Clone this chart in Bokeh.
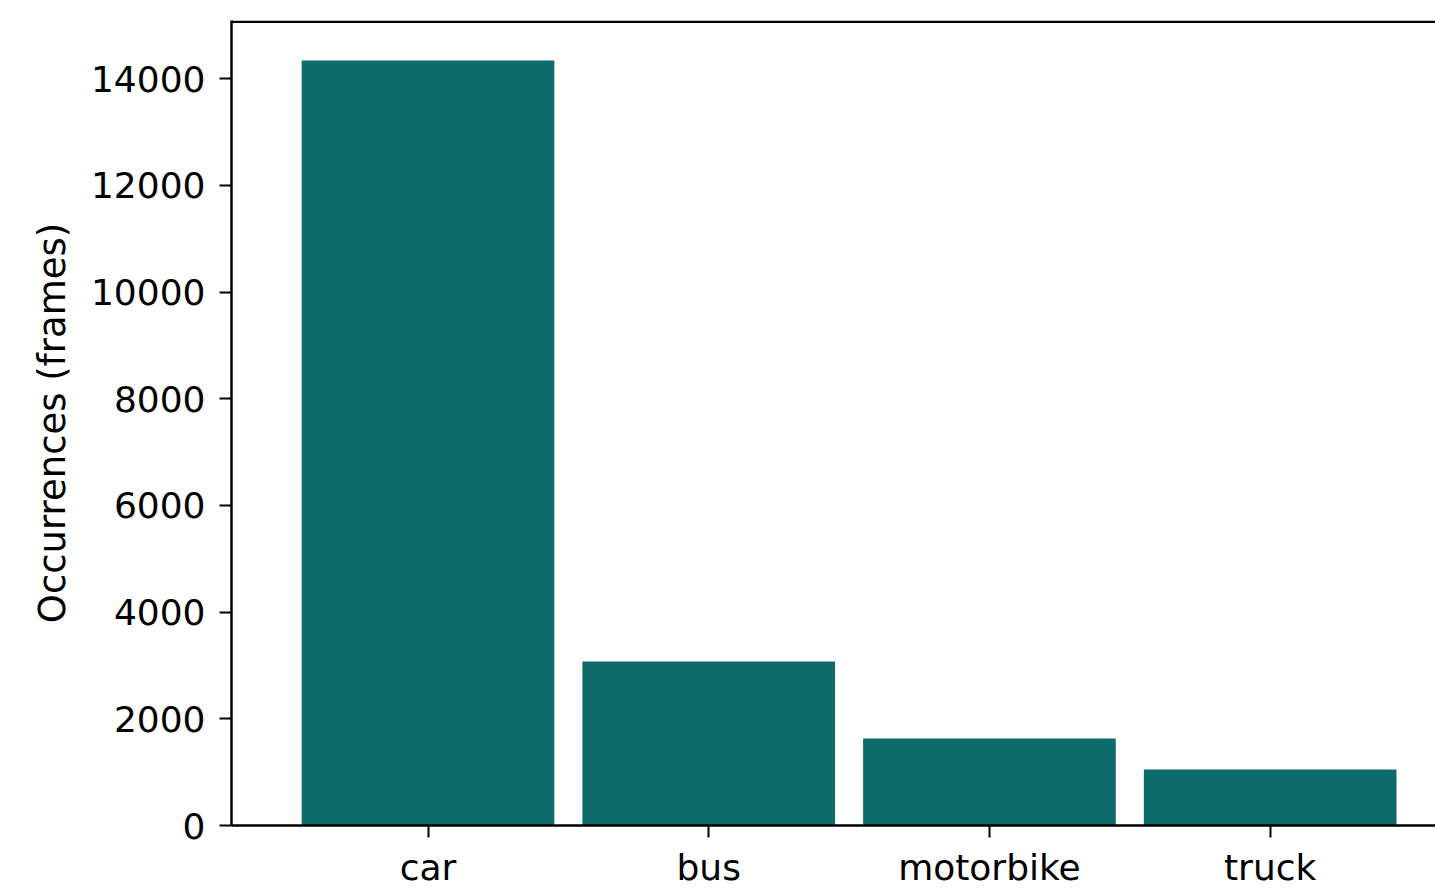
from bokeh.plotting import figure
from bokeh.models import Range1d, FixedTicker, Span, ColumnDataSource
from bokeh.embed import file_html
from bokeh.resources import INLINE

# Occurrences of each vehicle class, counted in frames
categories = ["car", "bus", "motorbike", "truck"]
occurrences = [14340, 3075, 1630, 1050]
y_ticks = [0, 2000, 4000, 6000, 8000, 10000, 12000, 14000]

BAR_COLOR = "#0d6b6b"
FONT = "DejaVu Sans"
Y_TOP = 15090

positions = list(range(len(categories)))
source = ColumnDataSource(dict(x=positions, top=occurrences, name=categories))

p = figure(
    width=1435, height=891,
    x_range=Range1d(-0.70, 3.589),
    y_range=Range1d(0, Y_TOP),
    output_backend="svg", toolbar_location=None,
    min_border_left=231, min_border_top=20, min_border_bottom=66, min_border_right=0,
)
p.outline_line_color = None
p.grid.visible = False
p.background_fill_color = "white"
p.border_fill_color = "white"

p.vbar(x="x", top="top", width=0.9, bottom=0, source=source,
       fill_color=BAR_COLOR, line_color=None)

# top frame edge, nudged just inside the frame so it is not clipped
p.add_layout(Span(location=Y_TOP - 25, dimension="width", line_color="black", line_width=2.5))

for ax in (p.xaxis[0], p.yaxis[0]):
    ax.axis_line_width = 2.5
    ax.axis_line_color = "black"
    ax.major_tick_line_width = 2
    ax.major_tick_line_color = "black"
    ax.major_tick_in = 0
    ax.major_tick_out = 12
    ax.minor_tick_line_color = None
    ax.major_label_text_font = FONT
    ax.major_label_text_font_size = "36px"
    ax.major_label_text_color = "black"

p.xaxis.ticker = FixedTicker(ticks=positions)
p.xaxis.major_label_overrides = {i: c for i, c in zip(positions, categories)}
p.xaxis.major_label_standoff = 9

p.yaxis.ticker = FixedTicker(ticks=y_ticks)
p.yaxis.major_label_standoff = 14
p.yaxis.axis_label = "Occurrences (frames)"
p.yaxis.axis_label_text_font = FONT
p.yaxis.axis_label_text_font_size = "37px"
p.yaxis.axis_label_text_font_style = "normal"
p.yaxis.axis_label_text_color = "black"
p.yaxis.axis_label_standoff = 14

open("out.html", "w").write(file_html(p, INLINE))
